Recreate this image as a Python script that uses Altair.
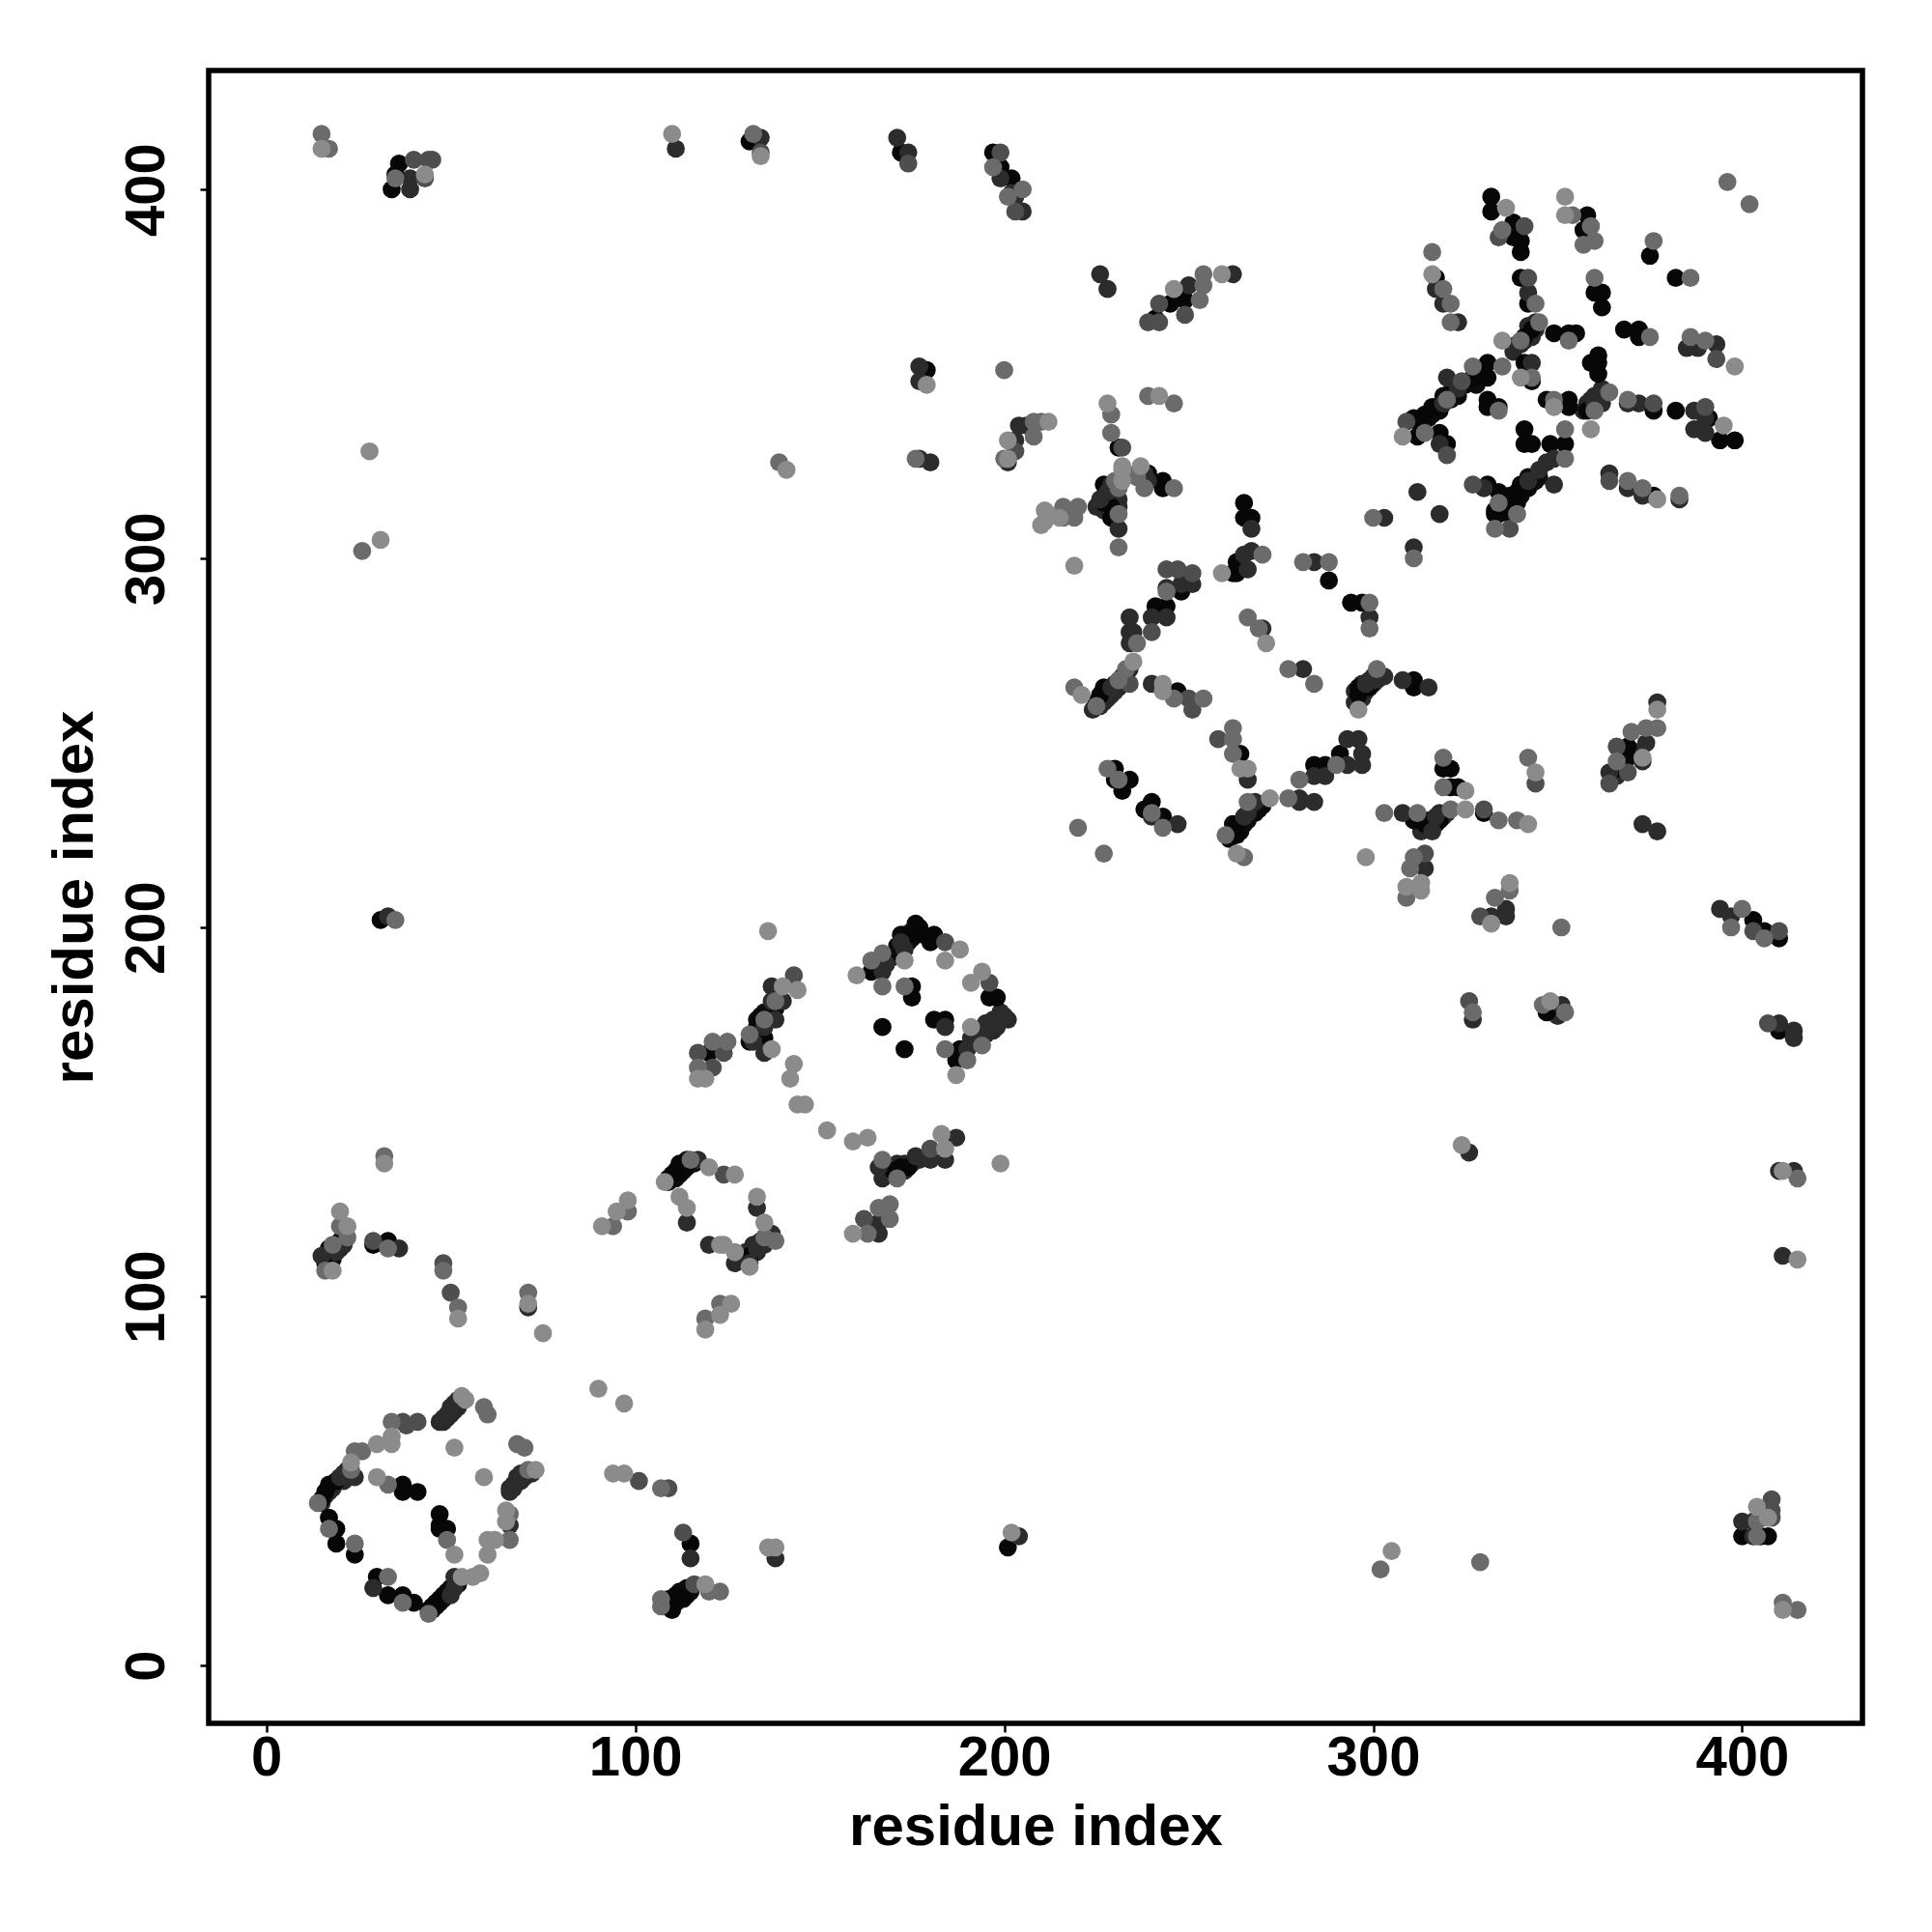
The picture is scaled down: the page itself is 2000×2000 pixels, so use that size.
import altair as alt
import pandas as pd

x_ticks = [0, 100, 200, 300, 400]
y_ticks = [0, 100, 200, 300, 400]

black = [(15,45),(16,47),(17,49),(19,50),(17,40),(19,37),(19,33),(24,30),(30,24),(33,19),(37,19),(40,17),(37,49),(37,47),(41,47),(47,41),(47,38),(49,37),(47,37),(45,16),(47,18),(44,15),(115,33),(108,17),(110,15),(111,19),(113,18),
(17,113),(17,109),(29,114),(33,115),(109,132),(111,134),(113,134),(112,136),(131,111),
(133,173),(132,170),(135,170),(120,166),(164,188),(174,198),(176,201),(178,198),(181,198),(180,196),(198,181),(196,181),(188,167),(187,164),(175,184),(175,181),(181,175),(184,175),(167,173),(173,167),(170,134),(172,135),(174,135),
(243,321),(243,319),(229,314),(227,315),(229,311),(265,315),(265,311),(267,311),(263,299),(263,296),(262,296),(288,294),(294,288),(297,288),(248,291),(241,287),(244,287),(227,265),(226,263),(225,261),(247,264),(264,247),(230,243),(230,240),(232,237),(234,240),(240,234),(238,232),(243,230),(296,265),(296,263),(299,265),(311,267),(311,265),(263,228),(261,225),(263,225),(284,244),(287,244),(291,247),(319,243),(321,243),(321,238),(323,238),(311,229),(314,229),(318,229),
(314,228),(330,231),(347,177),(349,179),(410,172),(369,249),(369,246),(366,243),(403,202),(406,199),(410,197),
(332,398),(332,394),(338,391),(338,387),(340,386),(340,383),(358,393),(357,389),(375,382),(382,376),(317,376),(340,376),(342,369),(360,372),(362,372),(362,368),(343,362),(341,360),(349,361),(353,361),(355,361),(368,362),(372,362),(372,360),(331,353),(331,349),(327,349),(317,341),(314,339),(311,338),(312,333),(318,334),(320,331),(341,353),(343,348),(361,355),(359,353),(361,353),(361,350),(358,340),(376,340),(331,343),(331,341),(334,341),(353,343),(353,341),(347,343),(382,340),(391,338),(394,332),(398,332),(341,335),(341,331),(343,331),(348,331),(352,331),
(376,317),(331,320),(334,318),(333,312),(337,312),(339,315),(339,318),(341,319),
(36,407),(35,404),(34,400),(131,413),(172,410),(197,410),(199,406),(202,403),(245,369),(249,370),(241,365),(231,330),(227,320),(239,323),(201,32),(400,35),(405,35),(407,35),(31,202),(179,351)]

dark = [(20,51),(22,52),(24,51),(29,21),(48,67),(49,68),(50,70),(70,52),(68,50),(67,48),(66,47),(66,38),(51,24),(51,21),(50,19),(115,29),
(21,114),(19,112),(15,111),(36,113),(114,120),(117,137),(120,114),(133,124),(137,117),(135,114),(133,113),(131,109),(71,97),
(137,184),(140,180),(137,180),(138,175),(135,173),(132,169),(135,166),(167,188),(168,190),(172,196),(173,194),(200,176),(198,175),(196,173),(194,172),(190,167),(184,173),(166,135),(176,138),(180,137),(184,137),(187,143),(166,120),(166,117),
(226,316),(228,318),(231,308),(229,320),(238,323),(239,321),(284,299),(299,284),(267,308),(267,302),(265,301),(266,297),(312,318),(318,312),(303,311),(311,303),(248,293),(251,293),(244,292),(240,284),(244,284),(234,284),(234,280),(235,280),(234,277),(234,270),(229,265),(240,266),(270,281),(281,270),(298,266),(300,267),(303,268),(301,269),(308,267),(315,265),(266,240),(240,230),(247,228),(268,234),(266,231),(265,230),(280,235),(280,234),(284,234),(284,241),(287,241),(293,251),(296,251),(297,247),(297,244),(293,244),(308,231),(316,226),(317,230),
(314,216),(336,205),(336,203),(332,203),(327,175),(351,179),(414,172),(414,170),(410,174),(377,261),(374,250),(373,245),(364,242),(373,228),(377,226),(394,205),(397,203),
(342,372),(319,369),(317,373),(323,364),(385,357),(388,357),(393,358),(320,349),(323,346),(319,342),(318,331),(343,353),(362,344),(360,342),(372,342),(369,342),(387,340),(387,335),(390,338),(390,334),(349,327),(347,326),(345,324),(349,320),(364,323),(369,319),(373,317),(383,316),(330,319),(342,321),
(39,400),(39,403),(111,411),(134,414),(171,414),(174,410),(203,398),(205,394),(199,403),(202,399),(226,377),(228,373),(262,377),(250,374),(204,336),(206,336),(203,332),(201,326),(177,352),(177,348),(177,327),(180,326),(33,203),(326,139),(204,35),(138,29),(400,39),(403,39),(403,35),(410,134),(414,134),(411,111)]

medium = [(41,66),(38,65),(37,66),(101,50),(109,48),(113,36),(116,22),
(29,115),(48,109),(50,101),(124,133),
(143,187),(121,162),(124,166),(117,166),(184,196),(196,185),(180,140),(162,121),
(244,297),(247,297),(251,296),(258,251),(250,262),(240,280),(234,266),(251,259),
(326,180),(329,203),(314,220),(344,239),(366,249),(369,242),(364,239),(403,199),(410,199),(407,174),(330,232),
(341,390),(334,387),(342,376),(393,354),(390,341),(376,342),(320,328),(324,348),(309,337),
(327,320),(337,308),(364,321),
(40,408),(44,408),(45,408),(43,403),(134,410),(174,407),(199,410),(203,394),(242,369),(249,366),(242,364),(239,364),(203,329),(232,330),(408,45),(408,42),(408,40)]

grey = [(14,44),(23,53),(24,58),(26,58),(34,66),(59,70),(60,68),(68,60),(70,59),(71,53),(66,41),(66,34),(49,34),(33,24),(37,17),(17,37),(24,33),(44,14),(107,48),(107,18),(107,16),(120,20),(123,20),(33,49),
(20,119),(22,116),(18,114),(16,107),(32,138),(33,113),(48,107),(52,97),(71,101),(94,119),(98,123),(119,94),(123,98),(115,137),(135,116),(138,115),
(138,180),(135,175),(131,171),(117,162),(121,169),(125,169),(164,191),(167,184),(167,193),(173,184),(184,167),(194,168),(190,164),(171,132),(167,137),(163,117),(166,124),(169,125),(169,121),
(216,314),(216,311),(219,311),(220,314),(231,312),(231,303),(231,319),(236,323),(238,319),(246,319),(281,299),(288,299),(299,288),(299,281),(300,311),(311,300),(270,301),(244,291),(236,277),(233,270),(231,267),(219,265),(225,260),(246,262),(254,262),(269,281),(266,284),(277,270),(284,266),(301,270),(262,254),(262,251),(262,247),(228,243),(231,240),(240,231),(243,227),(220,227),(227,220),(266,234),(260,225),(280,240),(277,235),(290,244),(319,246),(319,238),(303,231),(312,231),(321,232),(311,219),(265,219),
(334,229),(339,229),(342,246),(310,216),(309,208),(333,208),(337,210),(327,177),(346,179),(352,177),(351,200),(370,253),(374,254),(377,254),(366,245),(397,200),(400,205),(406,197),
(335,389),(354,393),(359,390),(360,386),(357,385),(396,402),(402,396),(376,386),(386,376),(319,373),(321,369),(321,364),(344,369),(360,376),(345,364),(340,359),(353,359),(375,360),(386,360),(390,359),(335,352),(327,352),(320,343),(314,334),(343,349),(364,345),(369,343),(360,340),(334,340),(349,343),(352,335),(352,327),(369,321),(316,383),
(373,319),(383,317),(334,315),(333,308),(339,312),
(15,415),(17,411),(35,403),(132,415),(197,406),(205,400),(201,398),(254,377),(254,374),(253,370),(200,351),(229,339),(229,334),(239,344),(246,342),(232,322),(230,321),(236,322),(210,337),(208,337),(208,333),(200,327),(139,326),(26,302),(176,327),(302,26),(329,28),(415,132),(415,15),(411,17),(404,39),(404,35),(35,202)]

light = [(23,55),(53,73),(54,72),(56,24),(58,25),(53,24),(60,34),(62,34),(60,30),(34,60),(34,62),(30,60),(51,59),(59,51),(30,51),(73,53),(51,30),(90,75),(97,71),(94,52),(97,52),(119,22),(65,39),(65,42),
(22,119),(20,123),(32,136),(18,107),(52,94),(71,98),(75,90),(91,119),(95,123),(98,126),(108,131),(112,127),(114,124),(120,135),(123,114),(124,114),(127,112),(127,133),(133,127),(135,120),(131,108),(119,91),(123,95),(126,98),
(136,199),(144,183),(140,184),(143,163),(142,159),(144,152),(146,152),(152,145),(159,142),(163,143),(117,159),(119,159),(160,187),(173,191),(188,194),(184,191),(194,188),(191,185),(191,173),(187,160),(183,144),(184,140),(199,136),(159,117),(137,167),
(211,310),(212,312),(210,309),(232,321),(232,324),(219,298),(259,296),(235,272),(221,263),(243,266),(243,264),(266,243),(264,243),(271,277),(296,259),(272,235),(263,220),(325,237),(325,232),(298,219),
(342,228),(344,242),(313,212),(309,211),(313,210),(337,212),(332,201),(348,180),(373,246),(377,259),
(336,395),(352,398),(352,393),(316,377),(335,359),(398,352),(308,333),(359,335),(395,336),(349,341),(340,349),
(377,316),
(15,411),(43,404),(110,415),(134,409),(246,373),(259,377),(212,337),(201,332),(201,327),(228,342),(242,344),(232,325),(237,325),(28,329),(31,305),(141,324),(179,347),(305,31),(202,36),(136,32),(138,32),(324,141),(411,134),(415,110),(404,43),(407,40),(411,15),(211,313),(215,311)]

# densely packed helix bands, drawn underneath the points above
band_dark = [(15,44),(16,46),(17,47),(18,48),(18,49),(20,50),(21,50),(21,52),(22,53),(23,52),
(47,66),(48,66),(49,67),(50,68),(51,69),(51,71),(52,70),(52,72),
(66,48),(67,49),(68,51),(69,50),(69,52),(70,51),(71,52),(72,52),
(127,109),(128,110),(129,110),(130,110),(130,112),(132,112),(132,114),(133,112),(134,114),(134,115),(136,115),(136,117),
(191,170),(192,170),(193,171),(194,170),(195,171),(195,174),(197,172),(197,175),(198,173),(199,175),(199,177),(201,175),
(167,132),(168,133),(169,133),(169,135),(171,134),(171,136),(173,134),(173,136),(175,136),(177,137),
(224,259),(226,260),(227,261),(228,262),(228,264),(229,263),(230,264),(230,266),(231,265),(232,266),(232,268),(233,268),
(295,261),(295,264),(297,262),(297,266),(298,264),(299,267),(300,266),(301,267),(300,268),
(313,226),(315,227),(315,229),(316,228),(317,228),(318,231),(319,230),(320,231),
(338,356),(339,358),(340,358),(341,359),(342,361),(342,363),(343,360),(344,362),(344,364),
(357,340),(358,342),(359,341),(359,343),(360,344),(361,343),(362,342),(363,345),(362,346),
(225,314),(226,315),(227,313),(228,314),(228,316),(230,316),(230,318),(231,316),(231,314),
(366,241),(367,244),(368,243),(368,247),(370,248),(372,247),(348,177),(349,177),(350,176)]

band_black = [(45,15),(46,16),(46,17),(47,17),(48,18),(48,19),(49,19),(49,20),(50,20),(50,21),(51,22),(52,22),
(108,16),(109,16),(109,18),(110,17),(111,17),(112,18),(112,20),(113,20),(114,19),(114,21),(115,20),
(16,109),(16,110),(18,110),(18,112),(19,113),(20,113),(20,115),(21,115),
(109,131),(110,132),(110,133),(111,132),(112,133),(113,135),(114,135),(114,137),(115,136),(116,136),
(131,169),(132,171),(133,171),(133,175),(134,172),(134,174),(134,176),(135,177),(136,175),(136,177),(137,178),(138,178),
(170,192),(171,195),(172,194),(172,198),(173,196),(173,198),(174,196),(175,197),(175,199),(177,200),(176,199),
(261,224),(262,226),(262,228),(264,226),(264,228),(265,228),(266,229),(267,231),(267,233),(269,232),(270,233),(268,231),
(333,313),(334,312),(335,313),(336,313),(336,315),(337,315),(337,317),(338,316),(340,317),(340,320),(342,319),(342,322),(343,321),(344,321),(345,322),
(312,337),(313,338),(315,338),(316,341),(316,339),(318,340),(319,344),(321,343),(321,345),(322,344),(323,344),(325,347),(326,348),(328,347),(328,350),(329,349)]

levels = [("#2a2a2a", band_dark), ("#0c0c0c", band_black), ("#070707", black), ("#2c2c2c", dark),
          ("#4e4e4e", medium), ("#6b6b6b", grey), ("#8b8b8b", light)]
rows = [{"x": p[0], "y": p[1], "shade": c} for c, pts in levels for p in pts]
df = pd.DataFrame(rows)

FONT = "Liberation Sans"

def axis(values, title_padding, title_size, angle=0, **kw):
    return alt.Axis(values=values, title="residue index", grid=False, domain=False,
                    ticks=True, tickSize=9, tickWidth=2.5, tickColor="black",
                    labelFont=FONT, labelFontWeight="bold", labelFontSize=58, labelColor="black",
                    titleFont=FONT, titleFontWeight="bold", titleFontSize=title_size, titleColor="black",
                    titlePadding=title_padding, labelAngle=angle, labelOverlap=False, format="d", **kw)

chart = (
    alt.Chart(df)
    .mark_circle(size=350, opacity=1)
    .encode(
        x=alt.X("x:Q", scale=alt.Scale(domain=[-15.6, 432.6], nice=False, zero=False),
                axis=axis(x_ticks, 13, 60, labelPadding=-2, labelBaseline="top")),
        y=alt.Y("y:Q", scale=alt.Scale(domain=[-15.7, 432.2], nice=False, zero=False),
                axis=axis(y_ticks, 15, 60, angle=270, labelPadding=38, labelBaseline="alphabetic", labelAlign="center")),
        color=alt.Color("shade:N", scale=None),
        order=alt.Order("rank:Q"),
    )
    .transform_window(rank="row_number()")
    .properties(
        width=1712, height=1711,
        autosize=alt.AutoSizeParams(type="none"),
        padding={"left": 208, "top": 65, "right": 60, "bottom": 200},
        background="white",
    )
    .configure_view(stroke="black", strokeWidth=5.5, fill="white")
)
chart.save("out.html", embed_options={"renderer": "svg", "actions": False})
